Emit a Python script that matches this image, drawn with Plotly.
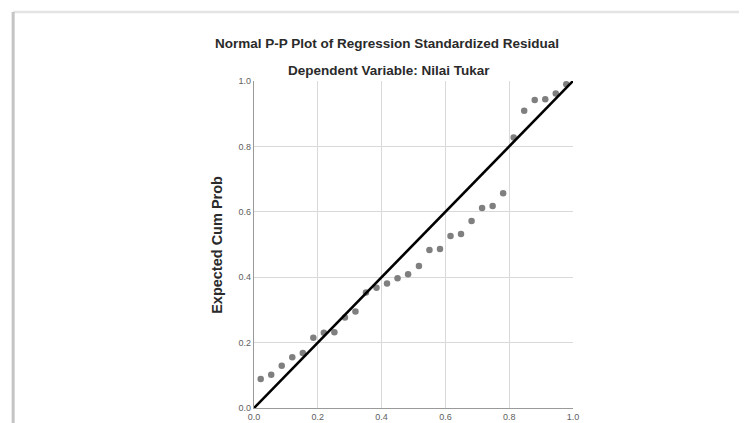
import plotly.graph_objects as go

# Observed cumulative probability (x) and expected cumulative probability (y)
observed_cum_prob = [0.021, 0.054, 0.087, 0.120, 0.153, 0.186, 0.219, 0.252, 0.285, 0.318,
                     0.351, 0.384, 0.417, 0.450, 0.483, 0.517, 0.550, 0.583, 0.616, 0.649,
                     0.682, 0.715, 0.748, 0.781, 0.814, 0.847, 0.880, 0.913, 0.946, 0.979]
expected_cum_prob = [0.089, 0.102, 0.129, 0.155, 0.168, 0.215, 0.230, 0.232, 0.277, 0.295,
                     0.353, 0.368, 0.381, 0.397, 0.409, 0.434, 0.483, 0.486, 0.526, 0.532,
                     0.572, 0.612, 0.618, 0.657, 0.827, 0.909, 0.942, 0.944, 0.962, 0.990]
ref_line_x = [0.0, 1.0]
ref_line_y = [0.0, 1.0]
tick_vals = [0.0, 0.2, 0.4, 0.6, 0.8, 1.0]
tick_text = ["0.0", "0.2", "0.4", "0.6", "0.8", "1.0"]

title_text = "Normal P-P Plot of Regression Standardized Residual"
subtitle_text = "Dependent Variable: Nilai Tukar"
y_title = "Expected Cum Prob"

FONT = "Liberation Sans, Arial, sans-serif"

fig = go.Figure()
fig.add_trace(go.Scatter(
    x=observed_cum_prob, y=expected_cum_prob, mode="markers",
    marker=dict(color="#7f7f7f", size=6.5, line=dict(width=0)),
    showlegend=False, hoverinfo="skip"))
fig.add_trace(go.Scatter(
    x=ref_line_x, y=ref_line_y, mode="lines",
    line=dict(color="#000000", width=2.6),
    showlegend=False, hoverinfo="skip"))

axis_common = dict(
    range=[0, 1], tickvals=tick_vals, ticktext=tick_text,
    showgrid=True, gridcolor="#d9d9d9", gridwidth=1,
    zeroline=False, showline=True, linecolor="#9a9a9a", linewidth=1.2,
    ticks="", tickfont=dict(family=FONT, size=9, color="#606060"),
    fixedrange=True, automargin=False,
)

# page body adds an 8px offset; figure sized so the plot lands where the reference has it
fig.update_layout(
    template="none",
    width=739, height=415,
    margin=dict(l=246, r=174, t=73, b=15, pad=0),
    paper_bgcolor="white", plot_bgcolor="white",
    font=dict(family=FONT),
    xaxis=dict(**axis_common),
    yaxis=dict(**axis_common),
    annotations=[
        dict(text="<b>" + title_text + "</b>", xref="paper", yref="paper",
             x=0.418, y=1.115, xanchor="center", yanchor="middle", showarrow=False,
             font=dict(family=FONT, size=13.5, color="#2a2a2a")),
        dict(text="<b>" + subtitle_text + "</b>", xref="paper", yref="paper",
             x=0.422, y=1.032, xanchor="center", yanchor="middle", showarrow=False,
             font=dict(family=FONT, size=13.5, color="#2a2a2a")),
        dict(text="<b>" + y_title + "</b>", xref="paper", yref="paper",
             x=-0.118, y=0.5, xanchor="center", yanchor="middle", showarrow=False,
             textangle=-90, font=dict(family=FONT, size=14.5, color="#2a2a2a")),
    ],
    shapes=[
        dict(type="line", xref="paper", yref="paper", x0=-0.755, x1=1.6,
             y0=1.211, y1=1.211, line=dict(color="#e4e4e4", width=2.5)),
        dict(type="line", xref="paper", yref="paper", x0=-0.755, x1=-0.755,
             y0=1.211, y1=-0.1, line=dict(color="#c4c4c4", width=3)),
    ],
)

fig.write_html("out.html", config={"displayModeBar": False})
